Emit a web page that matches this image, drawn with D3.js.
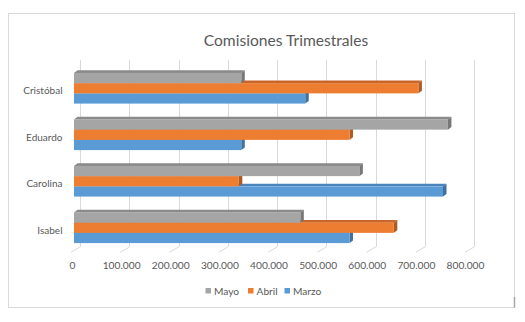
<!DOCTYPE html>
<html>
<head>
<meta charset="utf-8">
<script src="https://cdn.jsdelivr.net/npm/d3@7"></script>
<style>
  html, body { margin: 0; padding: 0; background: #fff; }
  svg { display: block; }
  text { font-family: Lato, "Open Sans", sans-serif; fill: #595959; }
</style>
</head>
<body>
<svg id="chart" width="525" height="322"></svg>
<script>
// Commissions per salesperson, by month
const categories = ["Isabel", "Carolina", "Eduardo", "Cristóbal"];
const marzo = [560000, 750000, 340000, 470000];
const abril = [650000, 335000, 560000, 700000];
const mayo  = [460000, 580000, 760000, 340000];
const legendOrder = ["Mayo", "Abril", "Marzo"];
const tickValues = [0, 100000, 200000, 300000, 400000, 500000, 600000, 700000, 800000];

const series = [
  { name: "Marzo", values: marzo, front: "#5b9bd5", top: "#4a84bd", side: "#41719c" },
  { name: "Abril", values: abril, front: "#ed7d31", top: "#c8652a", side: "#ae5a21" },
  { name: "Mayo",  values: mayo,  front: "#a5a5a5", top: "#8a8a8a", side: "#777777" }
];

const svg = d3.select("#chart");

// chart area frame
svg.append("rect")
  .attr("x", 8.5).attr("y", 13.5).attr("width", 506).attr("height", 294)
  .attr("fill", "#fff").attr("stroke", "#d9d9d9").attr("stroke-width", 1);
svg.append("line")
  .attr("x1", 514.5).attr("x2", 514.5).attr("y1", 297).attr("y2", 307.5)
  .attr("stroke", "#a6a6a6").attr("stroke-width", 1.5);

const es = d3.formatLocale({ decimal: ",", thousands: ".", grouping: [3], currency: ["", " €"] });
const fmt = es.format(",");

// scales: front face of the bars, back wall and floor edge of the 3D box
const xMax = 800000;
const xBar   = d3.scaleLinear().domain([0, xMax]).range([74, 467.6]);
const xBack  = d3.scaleLinear().domain([0, xMax]).range([80, 474]);
const xFloor = d3.scaleLinear().domain([0, xMax]).range([71, 465]);
const xLabel = d3.scaleLinear().domain([0, xMax]).range([72, 465]);

const y = d3.scaleBand().domain(categories).range([251, 65])
  .paddingInner(0.34).paddingOuter(0.17);
const yInner = d3.scaleBand().domain(legendOrder).range([0, y.bandwidth()]);

const backTop = 60, backBottom = 246.7, floorFront = 252.3;

// back wall gridlines and floor lines
const grid = svg.append("g").attr("stroke", "#d9d9d9").attr("stroke-width", 1).attr("fill", "none");
grid.selectAll("line.v").data(tickValues).join("line")
  .attr("class", "v")
  .attr("x1", d => Math.round(xBack(d)) + 0.5).attr("x2", d => Math.round(xBack(d)) + 0.5)
  .attr("y1", backTop).attr("y2", backBottom);
grid.selectAll("line.f").data(tickValues).join("line")
  .attr("class", "f")
  .attr("x1", d => xBack(d) + 0.5).attr("y1", backBottom)
  .attr("x2", d => xFloor(d)).attr("y2", floorFront);

// 3D bars: front face, top face, right face
const dx = 3.5, dy = 2.7;
const bars = svg.append("g");
series.forEach(s => {
  const g = bars.append("g");
  categories.forEach((c, i) => {
    const x0 = xBar(0), x1 = xBar(s.values[i]);
    const yy = y(c) + yInner(s.name), h = yInner.bandwidth();
    g.append("polygon")
      .attr("points", [[x0, yy], [x0 + dx, yy - dy], [x1 + dx, yy - dy], [x1, yy]].join(" "))
      .attr("fill", s.top);
    g.append("polygon")
      .attr("points", [[x1, yy], [x1 + dx, yy - dy], [x1 + dx, yy + h - dy], [x1, yy + h]].join(" "))
      .attr("fill", s.side);
    g.append("rect")
      .attr("x", x0).attr("y", yy).attr("width", x1 - x0).attr("height", h)
      .attr("fill", s.front);
  });
});

// value axis labels
const xAxis = d3.axisBottom(xLabel).tickValues(tickValues).tickFormat(fmt).tickSize(0).tickPadding(0);
const gx = svg.append("g").attr("transform", "translate(0,262)").call(xAxis);
gx.select(".domain").remove();
gx.selectAll("text").attr("font-size", 10.2).attr("dy", "0.71em")
  .style("font-family", "Lato, sans-serif").attr("fill", "#595959");

// category labels
const yAxis = d3.axisLeft(y).tickSize(0).tickPadding(0);
const gy = svg.append("g").attr("transform", "translate(62.5,2.7)").call(yAxis);
gy.select(".domain").remove();
gy.selectAll("text").attr("font-size", 10)
  .style("font-family", "Lato, sans-serif").attr("fill", "#595959");

// title
svg.append("text")
  .attr("x", 286).attr("y", 45.5).attr("text-anchor", "middle")
  .attr("font-size", 15.6).text("Comisiones Trimestrales");

// legend
const legendItems = [
  { name: "Mayo", color: "#a5a5a5", x: 205.5 },
  { name: "Abril", color: "#ed7d31", x: 248 },
  { name: "Marzo", color: "#5b9bd5", x: 284.5 }
];
const lg = svg.append("g");
legendItems.forEach(d => {
  lg.append("rect").attr("x", d.x).attr("y", 288).attr("width", 5.5).attr("height", 5.5).attr("fill", d.color);
  lg.append("text").attr("x", d.x + 8.5).attr("y", 291).attr("dy", "0.35em")
    .attr("font-size", 10.2).text(d.name);
});
</script>
</body>
</html>
